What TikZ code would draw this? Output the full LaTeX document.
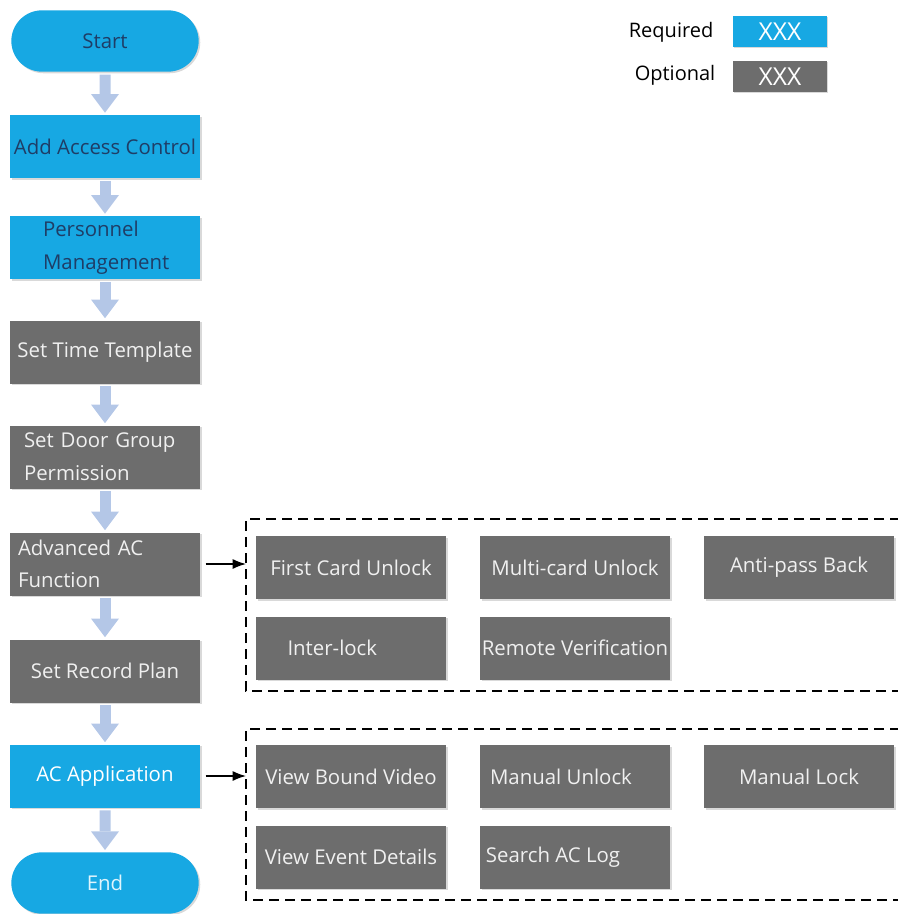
\documentclass[tikz,border=0pt]{standalone}
\usepackage{fontspec}
\setmainfont{Open Sans}
\usetikzlibrary{arrows.meta,shapes.misc,shadows}
\definecolor{reqblue}{HTML}{17A8E3}
\definecolor{optgray}{HTML}{6D6D6D}
\definecolor{flowblue}{HTML}{B4C7E7}
\definecolor{navytext}{HTML}{1F3D66}
\tikzset{
  base/.style={minimum width=142.5pt, minimum height=47.25pt, inner sep=1pt,
    font=\fontsize{15.3}{24.5}\selectfont,
    drop shadow={shadow xshift=1.2pt, shadow yshift=-1.2pt, opacity=.3}},
  req/.style={base, fill=reqblue, text=navytext},
  opt/.style={base, fill=optgray, text=white!94!black},
  term/.style={req, rounded rectangle, minimum height=46pt},
  keybox/.style={minimum width=70.5pt, minimum height=23.25pt, inner sep=0pt,
    font=\fontsize{18.5}{20}\selectfont, text=white,
    drop shadow={shadow xshift=1pt, shadow yshift=-1pt, opacity=.3}},
  flow/.style={draw=flowblue, line width=8.25pt,
    -{Triangle[length=14pt, width=21pt, line width=0pt]}, shorten <=2pt, shorten >=1.5pt},
  link/.style={-{Latex[length=10pt, width=7.5pt]}, line width=1pt},
  group/.style={dashed, dash pattern=on 7.5pt off 4.5pt, line width=1.5pt}
}
\begin{document}
\begin{tikzpicture}[x=0.75pt,y=-0.75pt]
\useasboundingbox (0,0) rectangle (897,914);
% legend
\node[anchor=east, font=\fontsize{15}{17}\selectfont] (reqtxt) at (718,32) {Required};
\node[keybox, fill=reqblue] (reqkey) at (780,31.5) {XXX};
\node[anchor=east, font=\fontsize{15}{17}\selectfont] (opttxt) at (720,75) {Optional};
\node[keybox, fill=optgray] (optkey) at (780,76.5) {XXX};
% main flow
\node[term] (start) at (105,41) {Start};
\node[req] (addac) at (105,146.5) {Add Access Control};
\node[req, align=left, text width=93pt] (staff) at (105,247.5) {Personnel\\Management};
\node[opt] (timetpl) at (105,352) {Set Time Template};
\node[opt, align=left, text width=121.5pt] (doorgrp) at (105,457) {Set Door Group\\Permission};
\node[opt, align=left, text width=130.5pt] (advfn) at (105,564) {Advanced AC\\Function};
\node[opt] (recplan) at (105,671) {Set Record Plan};
\node[req, text=white] (acapp) at (105,776) {AC Application};
\node[term, text=cyan!12] (finish) at (105,883) {End};
\foreach \a/\b in {start/addac, addac/staff, staff/timetpl, timetpl/doorgrp,
  doorgrp/advfn, advfn/recplan, recplan/acapp, acapp/finish}
  \draw[flow] (\a) -- (\b);
% advanced functions
\coordinate (grpA) at (246,519);
\draw[group] (900,519) -- (grpA) -- (246,691) -- (900,691);
\node[opt] (firstcard) at (351,567.5) {First Card Unlock};
\node[opt] (multicard) at (575,567.5) {Multi-card Unlock};
\node[opt] (antipass) at (799,567.5) {Anti-pass Back};
\node[opt] (interlock) at (351,648) {Inter-lock\hspace*{28pt}};
\node[opt] (remotever) at (575,648) {Remote Verification};
\draw[link, shorten <=4pt] (advfn) -- (advfn -| grpA);
% applications
\coordinate (grpB) at (246,729);
\draw[group] (900,729) -- (grpB) -- (246,900) -- (900,900);
\node[opt] (boundvideo) at (351,776.5) {View Bound Video};
\node[opt] (manunlock) at (575,776.5) {Manual Unlock\hspace*{21pt}};
\node[opt] (manlock) at (799,776.5) {Manual Lock};
\node[opt] (eventdet) at (351,857) {View Event Details};
\node[opt] (searchlog) at (575,857) {Search AC Log\hspace*{33pt}};
\draw[link, shorten <=4pt] (acapp) -- (acapp -| grpB);
\end{tikzpicture}
\end{document}
